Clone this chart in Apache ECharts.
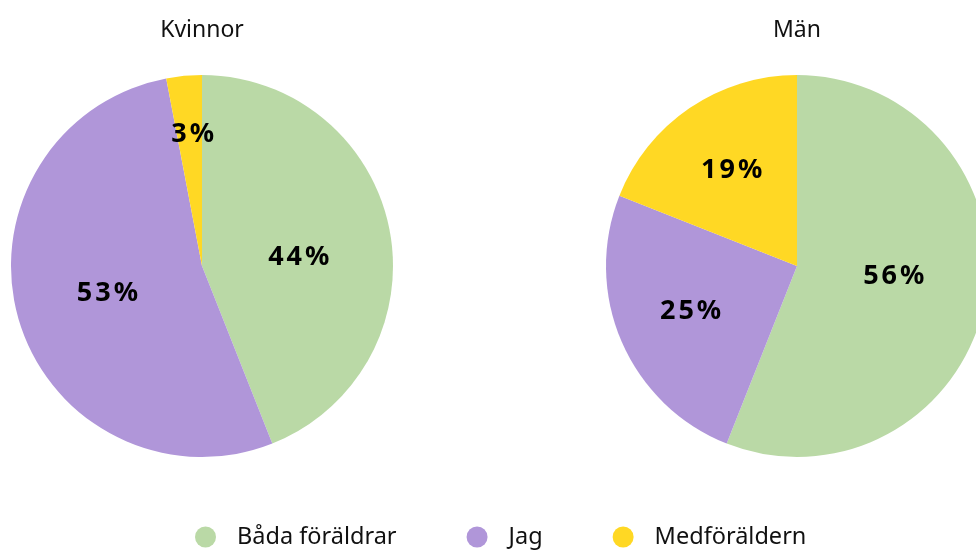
<!DOCTYPE html>
<html>
<head>
<meta charset="utf-8">
<script src="https://cdn.jsdelivr.net/npm/echarts@6/dist/echarts.min.js"></script>
<style>
  html, body { margin: 0; padding: 0; background: #fff; }
  #main { width: 976px; height: 550px; }
</style>
</head>
<body>
<div id="main"></div>
<script>
// svar per grupp, i procent
var categories = ["Båda föräldrar", "Jag", "Medföräldern"];
var kvinnorValues = [44, 53, 3];
var manValues = [56, 25, 19];
var groupNames = ["Kvinnor", "Män"];
var colors = ["#bad9a6", "#b096d9", "#ffd824"];

var toData = function(values) {
  return categories.map(function(name, i) {
    return { name: name, value: values[i] };
  });
};

// etiketter med lite spärrning
var spaced = function(params) {
  var s = params.value + "%";
  return s.split("").map(function(ch) {
    return "{c|" + ch + "}";
  }).join("");
};

var pieSeries = function(name, values, cx, shifts) {
  return {
    name: name,
    type: "pie",
    center: [cx, 266],
    radius: [0, 191],
    startAngle: 90,
    clockwise: true,
    animation: false,
    silent: true,
    itemStyle: { borderWidth: 0 },
    label: {
      show: true,
      position: "inside",
      formatter: spaced,
      rich: {
        c: {
          fontFamily: "Noto Sans",
          fontWeight: "bold",
          fontSize: 27,
          color: "#000",
          padding: [0, 1.5]
        }
      }
    },
    labelLayout: function(p) {
      var s = shifts[p.dataIndex];
      return { dx: s[0], dy: s[1] };
    },
    labelLine: { show: false },
    data: toData(values)
  };
};

var titleStyle = { fontFamily: "Noto Sans", fontWeight: "normal", fontSize: 23, color: "#111" };

var myChart = echarts.init(document.getElementById("main"));
var option = {
  color: colors,
  title: [
    { text: groupNames[0], left: 202, top: 19, padding: 0, textAlign: "center", textStyle: titleStyle },
    { text: groupNames[1], left: 797, top: 19, padding: 0, textAlign: "center", textStyle: titleStyle }
  ],
  legend: {
    data: categories,
    top: 525,
    left: 195,
    padding: 0,
    icon: "circle",
    itemWidth: 21,
    itemHeight: 21,
    itemGap: 70,
    textStyle: { fontFamily: "Noto Sans", fontSize: 23.5, color: "#111", padding: [0, 0, 0, 16] }
  },
  series: [
    pieSeries(groupNames[0], kvinnorValues, 202, [[0, 10], [0, 0], [0, -34]]),
    pieSeries(groupNames[1], manValues, 797, [[0, -8], [-16, 6], [-10, -14]])
  ]
};
myChart.setOption(option);
</script>
</body>
</html>
